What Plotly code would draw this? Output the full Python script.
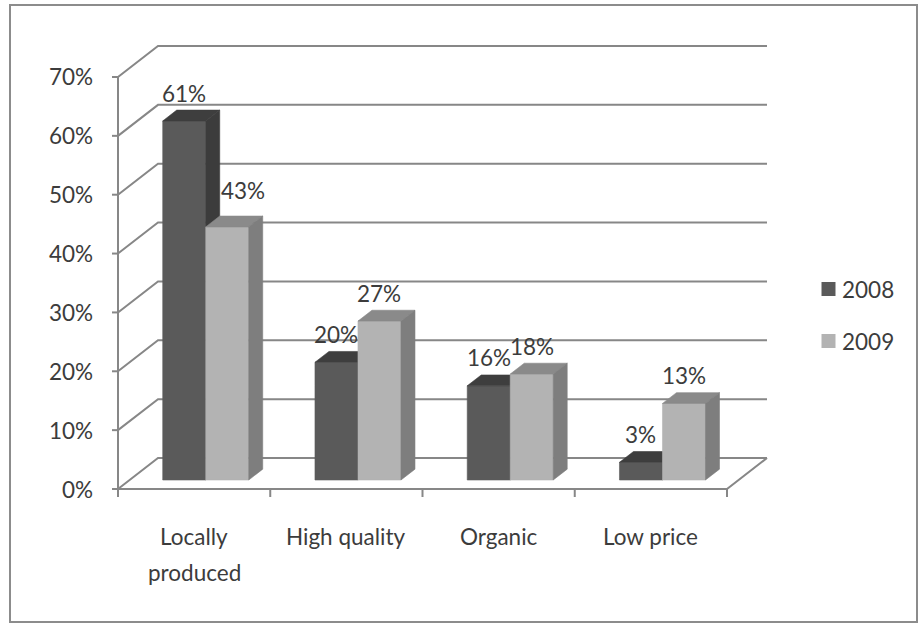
import plotly.graph_objects as go

# ---------------- data ----------------
categories = ["Locally produced", "High quality", "Organic", "Low price"]
series_names = ["2008", "2009"]
values_2008 = [61, 20, 16, 3]
values_2009 = [43, 27, 18, 13]
y_ticks = [0, 10, 20, 30, 40, 50, 60, 70]
y_tick_labels = ["0%", "10%", "20%", "30%", "40%", "50%", "60%", "70%"]

# ---------------- style / geometry ----------------
W, H = 920, 624
PX_X0 = 118.0        # pixel x of the first category boundary (front plane)
PX_PER_CAT = 152.25  # pixels per category
PX_Y0 = 489.0        # pixel y of 0 % (front plane)
PX_PER_PCT = 5.886   # pixels per percent
DEPTH_X = 40 / PX_PER_CAT   # full depth offset, category units
DEPTH_Y = 31 / PX_PER_PCT   # full depth offset, percent units
Z0, Z1 = 0.29, 0.64         # bar depth span
BAR_W = 0.2824              # bar width, category units

FONT = "Lato"
FS = 22.5
TXT = "#3c3c3c"
GRID = "#878787"
FILLS = {
    "2008": {"front": "#5a5a5a", "top": "#3e3e3e", "side": "#3c3c3c"},
    "2009": {"front": "#b3b3b3", "top": "#8a8a8a", "side": "#7e7e7e"},
}
LABEL_NUDGE = {(0, "2009"): (16, -9)}  # pixel nudge of data labels (dx, dy)

px_u = lambda px: px / PX_PER_CAT
px_v = lambda px: px / PX_PER_PCT
ncat = len(categories)
ymax = y_ticks[-1]


def P(u, v, z):
    return u + z * DEPTH_X, v + z * DEPTH_Y


fig = go.Figure()


def add_path(pts_list, color, width=2, fill=None):
    xs, ys = [], []
    for pts in pts_list:
        for p in pts:
            xs.append(p[0]); ys.append(p[1])
        if fill:
            xs.append(pts[0][0]); ys.append(pts[0][1])
        xs.append(None); ys.append(None)
    if fill:
        fig.add_trace(go.Scatter(x=xs, y=ys, mode="lines", fill="toself",
                                 fillcolor=fill, line=dict(color=fill, width=0.6),
                                 hoverinfo="skip", showlegend=False))
    else:
        fig.add_trace(go.Scatter(x=xs, y=ys, mode="lines",
                                 line=dict(color=color, width=width),
                                 hoverinfo="skip", showlegend=False))


# walls: gridlines (left wall diagonal + back wall horizontal), floor
grid_paths = []
for t in y_ticks:
    grid_paths.append([P(0, t, 0), P(0, t, 1), P(ncat, t, 1)])
grid_paths.append([P(0, 0, 0), P(ncat, 0, 0), P(ncat, 0, 1)])     # floor front + right
grid_paths.append([P(0, 0, 0), P(0, ymax, 0)])                     # vertical axis
for t in y_ticks:                                                  # y ticks
    grid_paths.append([P(-px_u(6), t, 0), P(0, t, 0)])
for k in range(ncat + 1):                                          # x ticks
    grid_paths.append([P(k, 0, 0), P(k, -px_v(8), 0)])
add_path(grid_paths, GRID, width=2)

# bars
series_vals = {"2008": values_2008, "2009": values_2009}
for si, name in enumerate(series_names):
    faces = {"front": [], "top": [], "side": []}
    for k, v in enumerate(series_vals[name]):
        c = k + 0.5
        u0 = c - BAR_W + si * BAR_W
        u1 = u0 + BAR_W
        faces["front"].append([P(u0, 0, Z0), P(u1, 0, Z0), P(u1, v, Z0), P(u0, v, Z0)])
        faces["top"].append([P(u0, v, Z0), P(u1, v, Z0), P(u1, v, Z1), P(u0, v, Z1)])
        faces["side"].append([P(u1, 0, Z0), P(u1, 0, Z1), P(u1, v, Z1), P(u1, v, Z0)])
    for f in ("front", "top", "side"):
        add_path(faces[f], None, fill=FILLS[name][f])

annotations = []
# data labels
for si, name in enumerate(series_names):
    for k, v in enumerate(series_vals[name]):
        c = k + 0.5
        u_mid = c - BAR_W / 2 + si * BAR_W
        x = u_mid + Z0 * DEPTH_X
        y = v + Z1 * DEPTH_Y + px_v(17)
        dx, dy = LABEL_NUDGE.get((k, name), (0, 0))
        annotations.append(dict(x=x + px_u(dx), y=y - px_v(dy), text=f"{v}%",
                                showarrow=False, xanchor="center", yanchor="middle",
                                font=dict(family=FONT, size=FS, color=TXT)))

# y tick labels
for t, lab in zip(y_ticks, y_tick_labels):
    annotations.append(dict(x=-px_u(23), y=t, text=lab, showarrow=False,
                            xanchor="right", yanchor="middle",
                            font=dict(family=FONT, size=FS, color=TXT)))

# category labels (first one wraps onto two lines)
for k, cat in enumerate(categories):
    lines = cat.split(" ") if k == 0 else [cat]
    for li, line in enumerate(lines):
        annotations.append(dict(x=k + 0.5, y=-px_v(47 + 36 * li), text=line,
                                showarrow=False, xanchor="center", yanchor="middle",
                                font=dict(family=FONT, size=FS, color=TXT)))

# legend
for si, name in enumerate(series_names):
    ly = -px_v(289 + 52 * si - PX_Y0)
    fig.add_trace(go.Scatter(x=[px_u(828.5 - PX_X0)], y=[ly], mode="markers",
                             marker=dict(symbol="square", size=14,
                                         color=FILLS[name]["front"], line=dict(width=0)),
                             hoverinfo="skip", showlegend=False))
    annotations.append(dict(x=px_u(840 - PX_X0), y=ly, text=name, showarrow=False,
                            xanchor="left", yanchor="middle",
                            font=dict(family=FONT, size=FS, color=TXT)))

fig.update_layout(
    width=W, height=H,
    margin=dict(l=0, r=0, t=0, b=0),
    paper_bgcolor="white", plot_bgcolor="white",
    showlegend=False,
    annotations=annotations,
    xaxis=dict(range=[-PX_X0 / PX_PER_CAT, (W - PX_X0) / PX_PER_CAT], visible=False, fixedrange=True),
    yaxis=dict(range=[-(H - PX_Y0) / PX_PER_PCT, PX_Y0 / PX_PER_PCT], visible=False, fixedrange=True),
    shapes=[dict(type="rect", xref="paper", yref="paper",
                 x0=10 / W, x1=917 / W, y0=1 - 622 / H, y1=1 - 5 / H,
                 line=dict(color="#8c8c8c", width=2), fillcolor="rgba(0,0,0,0)",
                 layer="above")],
)

fig.write_html("out.html")
